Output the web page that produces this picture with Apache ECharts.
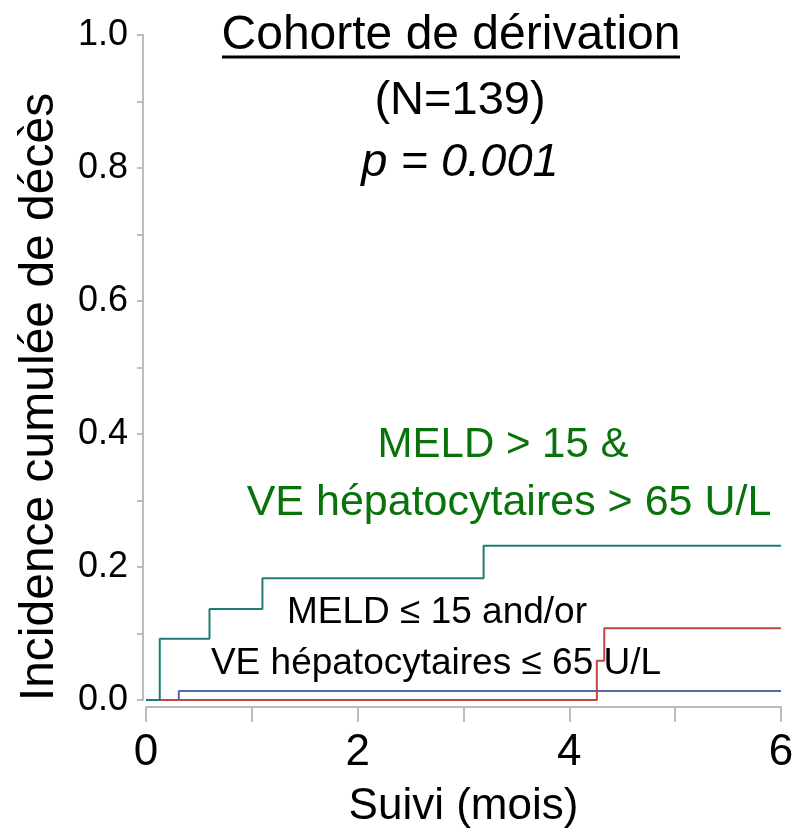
<!DOCTYPE html>
<html>
<head>
<meta charset="utf-8">
<script src="https://cdn.jsdelivr.net/npm/echarts@6/dist/echarts.min.js"></script>
<style>
html,body{margin:0;padding:0;background:#fff;}
#main{width:802px;height:835px;}
</style>
</head>
<body>
<div id="main"></div>
<script>
// courbes d'incidence cumulée (mois, incidence)
var highRisk = [[0, 0], [0.13, 0.092], [0.6, 0.137], [1.1, 0.183], [3.19, 0.232], [6, 0.232]];
var lowRiskRed = [[0, 0], [4.26, 0.059], [4.33, 0.108], [6, 0.108]];
var lowRiskBlue = [[0, 0], [0.31, 0.0135], [6, 0.0135]];
var xTicks = [0, 2, 4, 6];
var yTicks = [0, 0.2, 0.4, 0.6, 0.8, 1.0];

var FONT = '"Liberation Sans", Arial, sans-serif';
var AXIS_COLOR = '#b9bcc0';

var chart = echarts.init(document.getElementById('main'));

function stepSeries(name, data, color){
	return {
		name: name,
		type: 'line',
		step: 'end',
		data: data,
		symbol: 'none',
		animation: false,
		lineStyle: {color: color, width: 2}
	};
}

var option = {
	backgroundColor: '#fff',
	animation: false,
	grid: {left: 146, right: 21, top: 35, bottom: 135, containLabel: false, outerBoundsMode: 'none'},
	xAxis: {
		type: 'value',
		min: xTicks[0],
		max: xTicks[xTicks.length - 1],
		interval: 2,
		offset: 7,
		name: 'Suivi (mois)',
		nameLocation: 'middle',
		nameGap: 78,
		nameTextStyle: {fontFamily: FONT, fontSize: 44, color: '#000'},
		axisLine: {onZero: false, lineStyle: {color: AXIS_COLOR, width: 2}},
		axisTick: {show: true, length: 15, lineStyle: {color: AXIS_COLOR, width: 2}},
		minorTick: {show: true, splitNumber: 2, length: 15, lineStyle: {color: AXIS_COLOR, width: 2}},
		splitLine: {show: false},
		axisLabel: {fontFamily: FONT, fontSize: 44, color: '#000', margin: 24}
	},
	yAxis: {
		type: 'value',
		min: yTicks[0],
		max: yTicks[yTicks.length - 1],
		interval: 0.2,
		offset: 3,
		axisLine: {show: true, onZero: false, lineStyle: {color: AXIS_COLOR, width: 2}},
		axisTick: {show: true, length: 6, lineStyle: {color: AXIS_COLOR, width: 2}},
		minorTick: {show: true, splitNumber: 2, length: 6, lineStyle: {color: AXIS_COLOR, width: 2}},
		splitLine: {show: false},
		axisLabel: {
			fontFamily: FONT, fontSize: 36, color: '#000', margin: 15,
			formatter: function(v){ return v.toFixed(1); }
		}
	},
	series: [
		stepSeries('bleu', lowRiskBlue, '#5566b0'),
		stepSeries('rouge', lowRiskRed, '#c0463f'),
		stepSeries('MELD > 15', highRisk, '#1e7d72')
	],
	graphic: [
		{type: 'text', x: 40, y: 397, rotation: Math.PI / 2, style: {text: 'Incidence cumulée de décès', font: '48px ' + FONT, fill: '#000', textAlign: 'center', textVerticalAlign: 'middle'}},
		{type: 'text', x: 451, y: 12, style: {text: 'Cohorte de dérivation', font: '48px ' + FONT, fill: '#000', textAlign: 'center'}},
		{type: 'line', shape: {x1: 222, y1: 57, x2: 680, y2: 57}, style: {stroke: '#000', lineWidth: 3}},
		{type: 'text', x: 460, y: 78, style: {text: '(N=139)', font: '47px ' + FONT, fill: '#000', textAlign: 'center'}},
		{type: 'text', x: 460, y: 139, style: {text: 'p = 0.001', font: 'italic 47px ' + FONT, fill: '#000', textAlign: 'center'}},
		{type: 'text', x: 503, y: 424, style: {text: 'MELD > 15 &', font: '42px ' + FONT, fill: '#0a720a', textAlign: 'center'}},
		{type: 'text', x: 509, y: 482, style: {text: 'VE hépatocytaires > 65 U/L', font: '43px ' + FONT, fill: '#0a720a', textAlign: 'center'}},
		{type: 'text', x: 437, y: 594, style: {text: 'MELD ≤ 15 and/or', font: '37px ' + FONT, fill: '#000', textAlign: 'center'}},
		{type: 'text', x: 436, y: 645, style: {text: 'VE hépatocytaires ≤ 65 U/L', font: '37px ' + FONT, fill: '#000', textAlign: 'center'}}
	]
};

chart.setOption(option);
</script>
</body>
</html>
